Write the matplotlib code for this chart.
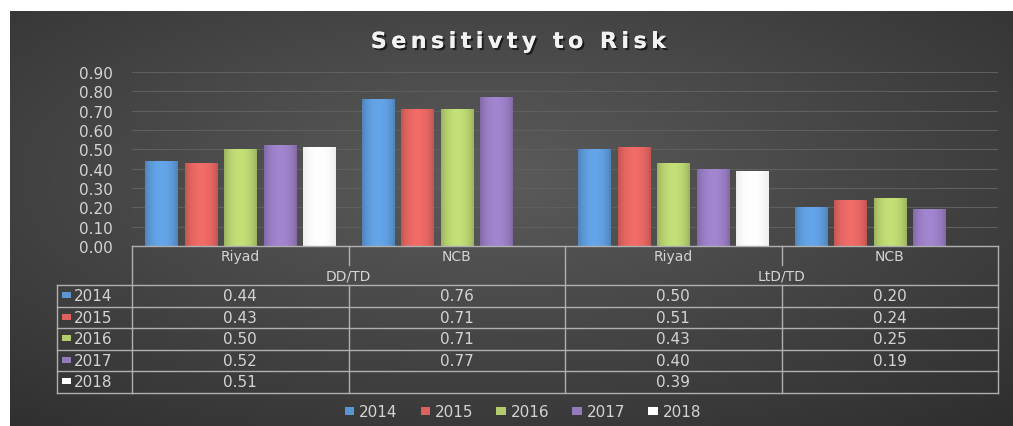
import numpy as np
import matplotlib
matplotlib.use("Agg")
import matplotlib.pyplot as plt
from matplotlib.patches import Patch
from matplotlib.transforms import blended_transform_factory
import matplotlib.colors as mcolors
import matplotlib.patheffects as pe

# ---------------- data ----------------
title = "Sensitivty to Risk"
groups = ["DD/TD", "LtD/TD"]
banks = ["Riyad", "NCB", "Riyad", "NCB"]
years = ["2014", "2015", "2016", "2017", "2018"]
v2014 = [0.44, 0.76, 0.50, 0.20]
v2015 = [0.43, 0.71, 0.51, 0.24]
v2016 = [0.50, 0.71, 0.43, 0.25]
v2017 = [0.52, 0.77, 0.40, 0.19]
v2018 = [0.51, None, 0.39, None]
yticks = [0.0, 0.1, 0.2, 0.3, 0.4, 0.5, 0.6, 0.7, 0.8, 0.9]
series = [v2014, v2015, v2016, v2017, v2018]
colors = ["#5b96d4", "#dc625e", "#b2cc6c", "#9479bd", "#ffffff"]

W, H = 1013, 427
fig = plt.figure(figsize=(W / 100, H / 100), dpi=100, facecolor="white")
TXT = "#d4d4d4"
FONT = "DejaVu Sans"

def fy(py):
    return 1 - py / H

def fx(px):
    return px / W

# background with radial gradient
bg = fig.add_axes([fx(10), 0, 1 - fx(10), fy(12)])
bg.set_axis_off()
yy, xx = np.mgrid[0:300, 0:700]
cx, cy = 330, 120
r = np.sqrt(((xx - cx) / 700) ** 2 + ((yy - cy) / 300) ** 2)
r = r / r.max()
g = 0.36 - 0.18 * r
img = np.dstack([g, g, g])
bg.imshow(img, aspect="auto", extent=[0, 1, 0, 1], interpolation="bilinear")
bg.set_xlim(0, 1); bg.set_ylim(0, 1)

# main axes
left, right, top, bottom = 132, 998, 73, 247
ax = fig.add_axes([fx(left), fy(bottom), fx(right - left), fy(top) - fy(bottom)])
ax.patch.set_alpha(0)
ncat = len(banks)
x = np.arange(ncat)
pitch = 0.1825
bw = 0.148
ax.set_xlim(-0.5, ncat - 0.5)
ax.set_ylim(0, 0.9)
ax.set_yticks(yticks)
ax.set_yticklabels([f"{t:.2f}" for t in yticks], color=TXT, fontsize=11, family=FONT)
ax.tick_params(axis="y", length=0, pad=14)
ax.tick_params(axis="x", length=0, labelbottom=False)
for s in ax.spines.values():
    s.set_visible(False)
ax.grid(axis="y", color="#5f5f5f", linewidth=0.8)
ax.set_axisbelow(True)

shade = 0.78 + 0.32 * np.sin(np.linspace(0.15, np.pi - 0.15, 32)) ** 0.6
for i, (vals, c) in enumerate(zip(series, colors)):
    v = np.array([np.nan if a is None else a for a in vals], dtype=float)
    bars = ax.bar(x + (i - 2) * pitch, v, width=bw, color=c, zorder=3, linewidth=0)
    base = np.array(mcolors.to_rgb(c))
    for b in bars:
        if np.isnan(b.get_height()):
            continue
        if c == "#ffffff":
            grad = np.clip(np.ones((32, 3)) * (0.9 + 0.1 * (shade[:, None] - 0.78) / 0.32), 0, 1)
        else:
            grad = np.clip(base[None, :] * shade[:, None], 0, 1)
        im = ax.imshow(grad[None, :, :], aspect="auto", zorder=4,
                       extent=[b.get_x(), b.get_x() + b.get_width(), 0, b.get_height()],
                       interpolation="bilinear")
        im.set_clip_path(b)
ax.set_xlim(-0.5, ncat - 0.5)
ax.set_ylim(0, 0.9)

# ---------------- data table ----------------
tr = blended_transform_factory(ax.transData, fig.transFigure)
frt = fig.transFigure
lc = "#b0b0b0"
lw = 1.0
row_tops = [286, 307.5, 329, 350.5, 372, 393.5]

def hline(y, x0, x1, trans=tr):
    fig.add_artist(plt.Line2D([x0, x1], [fy(y), fy(y)], transform=trans, color=lc, lw=lw))

def vline(xd, y0, y1, trans=tr):
    fig.add_artist(plt.Line2D([xd, xd], [fy(y0), fy(y1)], transform=trans, color=lc, lw=lw))

hline(bottom, -0.5, ncat - 0.5)
for ry in row_tops:
    hline(ry, -0.5, ncat - 0.5)
    fig.add_artist(plt.Line2D([fx(57), fx(left)], [fy(ry), fy(ry)], transform=frt, color=lc, lw=lw))
vline(-0.5, bottom, row_tops[-1])
vline(ncat - 0.5, bottom, row_tops[-1])
vline(1.5, bottom, row_tops[-1])
for xd in [0.5, 2.5]:
    vline(xd, bottom, 266)
    vline(xd, row_tops[0], row_tops[-1])
fig.add_artist(plt.Line2D([fx(57), fx(57)], [fy(row_tops[0]), fy(row_tops[-1])], transform=frt, color=lc, lw=lw))

for j, bname in enumerate(banks):
    fig.text(j, fy(257), bname, transform=tr, ha="center", va="center", color=TXT, fontsize=10, family=FONT)
for k, gname in enumerate(groups):
    fig.text(0.5 + 2 * k, fy(277), gname, transform=tr, ha="center", va="center", color=TXT, fontsize=10, family=FONT)

for i, (yr, vals, c) in enumerate(zip(years, series, colors)):
    cyp = (row_tops[i] + row_tops[i + 1]) / 2
    fig.add_artist(plt.Rectangle((fx(62), fy(cyp + 2.5)), fx(9), fy(cyp - 3.5) - fy(cyp + 2.5),
                                 transform=frt, color=c, lw=0))
    fig.text(fx(74), fy(cyp), yr, transform=frt, ha="left", va="center", color=TXT, fontsize=11, family=FONT)
    for j, v in enumerate(vals):
        if v is None:
            continue
        fig.text(j, fy(cyp), f"{v:.2f}", transform=tr, ha="center", va="center", color=TXT,
                 fontsize=11, family=FONT)

# title (letter-spaced)
spaced = "\u2009".join(title)
fig.text(fx(519), fy(43), spaced, ha="center", va="center", color="#f2f2f2",
         fontsize=16, fontweight="bold", family=FONT,
         path_effects=[pe.withSimplePatchShadow(offset=(1.5, -1.5), shadow_rgbFace="black", alpha=0.6), pe.Normal()])

# legend
handles = [Patch(facecolor=c, edgecolor="none") for c in colors]
leg = fig.legend(handles, years, loc="center", bbox_to_anchor=(fx(523), fy(413)), ncol=5,
                 frameon=False, handlelength=0.6, handleheight=0.45, handletextpad=0.35,
                 columnspacing=1.5, prop={"family": FONT, "size": 11})
for t in leg.get_texts():
    t.set_color(TXT)

fig.savefig("out.png", dpi=100, facecolor="white")
